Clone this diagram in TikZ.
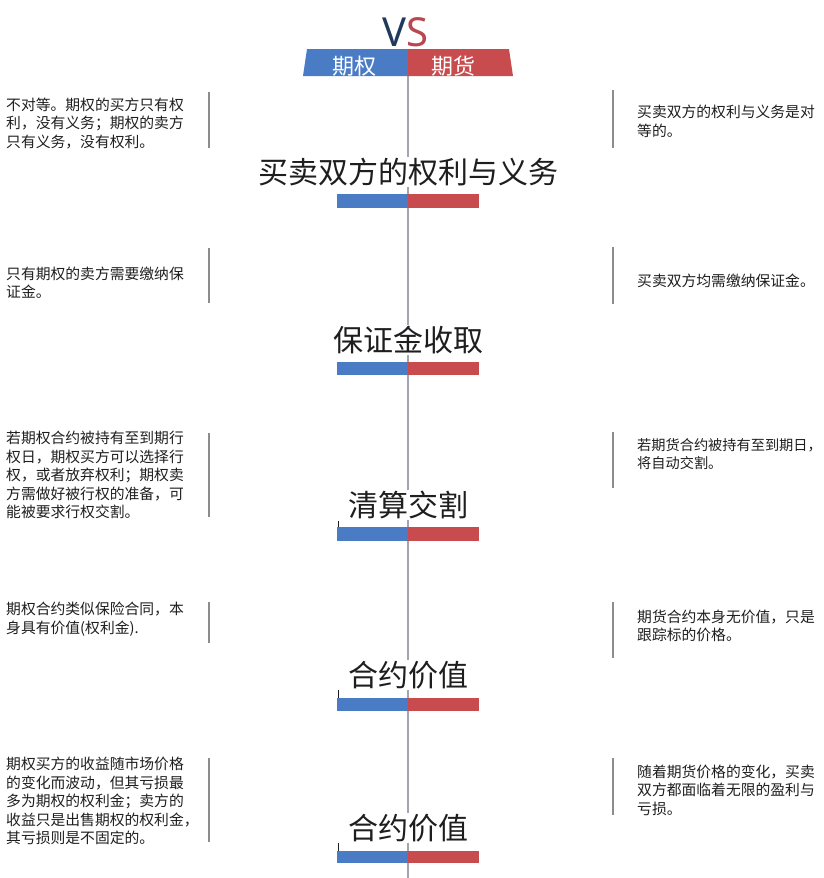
\documentclass[tikz,border=0pt]{standalone}
\usepackage{fontspec}
\newfontfamily\cjk{Noto Sans CJK SC}
\newfontfamily\latin{Noto Sans}
\definecolor{optblue}{HTML}{4A7CC6}
\definecolor{futred}{HTML}{C84B4E}
\definecolor{vsnavy}{HTML}{1F3A5C}
\definecolor{vsred}{HTML}{B8474F}
\definecolor{linegray}{HTML}{A3A6B2}
\definecolor{bargray}{HTML}{8C8C8C}
\definecolor{textdark}{HTML}{1E1E1E}
\begin{document}
\begin{tikzpicture}[x=1pt,y=-1pt,
    sidetext/.style={anchor=west, align=left, inner sep=0pt, text=textdark,
        font=\cjk\fontsize{14.8}{18.5}\selectfont},
    title/.style={fill=white, inner sep=1pt, text=textdark,
        font=\cjk\fontsize{30}{34}\selectfont},
    headtext/.style={text=white, inner sep=0pt, font=\cjk\fontsize{22}{24}\selectfont},
    sidebar/.style={draw=bargray, line width=1.5pt},
    tick/.style={draw=textdark, line width=0.8pt}]
    \useasboundingbox (0,0) rectangle (824,878);

    % Draw the centre line
    \coordinate (top) at (408,76);
    \coordinate (bottom) at (408,878);
    \draw[linegray, line width=1.5pt] (top) -- (bottom);

    % Header: VS and the two labels
    \node[inner sep=0pt, font=\latin\fontsize{40}{44}\selectfont] (vs) at (405,32.5)
        {\textcolor{vsnavy}{V}\textcolor{vsred}{S}};
    \fill[optblue] (307,49) -- (408,49) -- (408,76) -- (303,76) -- cycle;
    \fill[futred] (408,49) -- (509,49) -- (513,76) -- (408,76) -- cycle;
    \node[headtext] (hdopt) at (354,66) {期权};
    \node[headtext] (hdfut) at (453,66) {期货};

    % Section 1
    \node[sidetext] (lt1) at (6,123.5) {不对等。期权的买方只有权\\利，没有义务；期权的卖方\\只有义务，没有权利。};
    \node[sidetext] (rt1) at (637,121.5) {买卖双方的权利与义务是对\\等的。};
    \draw[sidebar] (209,92) -- (209,148);
    \draw[sidebar] (613,90) -- (613,148);
    \node[title] (ttl1) at (408,172) {买卖双方的权利与义务};
    \fill[optblue] (337,194) rectangle (408,208);
    \fill[futred] (408,194) rectangle (479,208);

    % Section 2
    \node[sidetext] (lt2) at (6,282.5) {只有期权的卖方需要缴纳保\\证金。};
    \node[sidetext] (rt2) at (637,281) {买卖双方均需缴纳保证金。};
    \draw[sidebar] (209,248) -- (209,303);
    \draw[sidebar] (613,247) -- (613,304);
    \node[title] (ttl2) at (408,340) {保证金收取};
    \fill[optblue] (337,362) rectangle (408,375);
    \fill[futred] (408,362) rectangle (479,375);

    % Section 3
    \node[sidetext] (lt3) at (6,475) {若期权合约被持有至到期行\\权日，期权买方可以选择行\\权，或者放弃权利；期权卖\\方需做好被行权的准备，可\\能被要求行权交割。};
    \node[sidetext, font=\cjk\fontsize{14.2}{18.5}\selectfont] (rt3) at (637,454) {若期货合约被持有至到期日，\\将自动交割。};
    \draw[sidebar] (209,433) -- (209,517);
    \draw[sidebar] (613,432) -- (613,488);
    \node[title] (ttl3) at (408,505) {清算交割};
    \fill[optblue] (337,527) rectangle (408,541);
    \fill[futred] (408,527) rectangle (479,541);
    \draw[tick] (338,521) -- (338,527);

    % Section 4
    \node[sidetext] (lt4) at (6,619) {期权合约类似保险合同，本\\身具有价值(权利金).};
    \node[sidetext] (rt4) at (637,626) {期货合约本身无价值，只是\\跟踪标的价格。};
    \draw[sidebar] (209,602) -- (209,643);
    \draw[sidebar] (613,602) -- (613,658);
    \node[title] (ttl4) at (408,675) {合约价值};
    \fill[optblue] (337,698) rectangle (408,711);
    \fill[futred] (408,698) rectangle (479,711);
    \draw[tick] (338,690) -- (338,698);

    % Section 5
    \node[sidetext] (lt5) at (6,801) {期权买方的收益随市场价格\\的变化而波动，但其亏损最\\多为期权的权利金；卖方的\\收益只是出售期权的权利金，\\其亏损则是不固定的。};
    \node[sidetext] (rt5) at (637,790) {随着期货价格的变化，买卖\\双方都面临着无限的盈利与\\亏损。};
    \draw[sidebar] (209,758) -- (209,842);
    \draw[sidebar] (613,758) -- (613,815);
    \node[title] (ttl5) at (408,828) {合约价值};
    \fill[optblue] (337,851) rectangle (408,863);
    \fill[futred] (408,851) rectangle (479,863);
    \draw[tick] (338,843) -- (338,851);
\end{tikzpicture}
\end{document}
